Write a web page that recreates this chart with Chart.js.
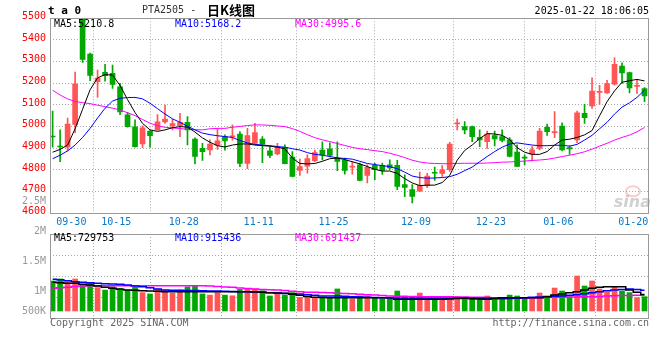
<!DOCTYPE html>
<html><head><meta charset="utf-8">
<script src="https://cdn.jsdelivr.net/npm/chart.js@4.4.1/dist/chart.umd.min.js"></script>
<style>
html,body{margin:0;padding:0;background:#fff;width:660px;height:360px;overflow:hidden}
#main{position:absolute;left:0;top:0}
#vol{position:absolute;left:0;top:195px}
</style></head><body>
<canvas id="main" width="660" height="228"></canvas>
<canvas id="vol" width="660" height="165"></canvas>
<script>
// ---- data ----
const opens = [4956,4910,4905,5010,5540,5335,5207,5251,5246,5184, 5054,4999,4920,4979,4985,5022,5003,5005,5020,4943,
  4900,4893,4915,4954,4952,4966,4830,4923,4943,4888, 4874,4905,4860,4798,4817,4843,4892,4897,4854,4844,
  4813,4824,4775,4821,4821,4824,4821,4732,4709,4702, 4728,4789,4784,4801,5013,5000,5000,4951,4931,4959,
  4954,4939,4882,4858,4873,4900,4997,4972,5003,4903, 4939,5061,5096,5158,5156,5196,5279,5250,5186,5176];
const highs = [5072,4985,5040,5252,5580,5340,5261,5288,5284,5200, 5066,5031,5004,4982,5056,5100,5035,5061,5046,4948,
  4923,4939,4992,4962,5008,4977,4992,5015,4954,4908, 4923,4916,4885,4850,4870,4892,4930,4925,4930,4855,
  4839,4832,4824,4832,4832,4847,4844,4778,4732,4790, 4784,4813,4820,4927,5035,5023,5003,4985,4980,4980,
  4985,4949,4916,4870,4908,4992,5012,5069,5018,4911, 5072,5103,5225,5191,5214,5317,5294,5252,5214,5180];
const lows = [4905,4838,4888,4972,5296,5212,5135,5210,5176,5055, 4998,4905,4903,4905,4984,5015,4985,4954,4916,4828,
  4844,4870,4895,4891,4937,4815,4806,4922,4834,4857, 4870,4828,4768,4775,4785,4838,4846,4860,4797,4781,
  4781,4750,4740,4755,4780,4800,4709,4677,4648,4700, 4718,4752,4770,4793,4985,4966,4931,4908,4900,4911,
  4930,4860,4815,4824,4842,4893,4960,4949,4888,4872, 4926,5015,5084,5103,5153,5191,5199,5156,5153,5115];
const closes = [4952,4906,5012,5198,5310,5236,5224,5235,5195,5068, 5000,4908,4995,4958,5022,5035,5014,5020,4985,4862,
  4885,4920,4934,4934,4958,4830,4959,4972,4919,4867, 4905,4829,4770,4816,4852,4880,4870,4867,4839,4798,
  4816,4752,4812,4801,4798,4809,4724,4720,4678,4729, 4772,4785,4801,4920,5017,4985,4954,4939,4966,4943,
  4936,4862,4816,4855,4893,4980,4977,4976,4893,4897, 5064,5041,5164,5162,5199,5288,5248,5179,5190,5142];
const ma5 = [4882,4895,4915,4990,5080,5170,5225,5240,5238,5190, 5125,5065,5015,4985,4978,4985,4995,5000,4998,4975,
  4948,4928,4912,4906,4915,4920,4920,4915,4912,4910, 4905,4898,4855,4830,4828,4830,4840,4852,4855,4848,
  4838,4828,4816,4803,4795,4795,4784,4760,4740,4728, 4730,4730,4742,4775,4845,4890,4915,4945,4968,4966,
  4960,4940,4903,4882,4872,4872,4885,4915,4938,4942, 4950,4962,4982,5050,5115,5165,5205,5212,5218,5211];
const ma10 = [4852,4868,4888,4915,4950,4992,5040,5085,5118,5131, 5134,5135,5128,5108,5083,5058,5036,5020,5002,4985,
  4970,4963,4958,4954,4950,4936,4925,4918,4915,4912, 4908,4905,4898,4892,4880,4872,4868,4862,4856,4853,
  4850,4840,4830,4825,4820,4815,4806,4790,4772,4765, 4762,4763,4765,4769,4780,4797,4813,4838,4862,4885,
  4905,4920,4925,4920,4915,4912,4912,4914,4914,4910, 4918,4938,4960,4990,5020,5058,5090,5110,5135,5168];
const ma30 = [5168,5146,5128,5116,5111,5106,5099,5092,5085,5077, 5064,5051,5033,5016,5004,4997,4994,4991,4988,4986,
  4985,4990,4992,4992,4997,5001,5005,5008,5008,5006, 5003,5000,4991,4978,4963,4949,4939,4931,4922,4913,
  4904,4898,4894,4889,4885,4877,4868,4857,4845,4837, 4832,4830,4829,4829,4830,4831,4831,4831,4832,4834,
  4836,4837,4839,4841,4844,4846,4849,4855,4862,4868, 4875,4884,4896,4910,4923,4938,4950,4961,4976,4996];
// volume, thousands
const volK = [1320,1410,1290,1410,1140,1250,1030,920,1070,1000, 920,1060,810,750,970,920,780,920,1060,1110,
  750,700,810,700,670,950,970,970,890,660, 750,700,810,600,600,600,600,600,970,600,
  530,660,660,560,530,590,880,660,600,790, 480,560,560,530,630,560,560,560,660,510,
  510,700,660,560,600,790,590,1010,880,630, 1540,1100,1320,970,840,1040,880,810,590,630];
const volMA5K = [1260,1240,1217,1217,1180,1140,1100,1050,997,960, 924,910,895,880,865,851,851,851,851,851,
  851,851,851,851,851,851,845,835,820,805, 790,777,740,690,640,600,590,587,587,587,
  587,587,587,587,587,587,513,513,513,513, 513,513,513,530,545,557,540,525,513,550,
  587,587,587,587,587,587,640,704,750,800, 851,920,997,1040,1070,1070,1070,924,820,730];
const volMA10K = [1400,1370,1330,1290,1265,1240,1217,1200,1185,1173, 1140,1105,1070,1020,970,925,915,910,905,900,
  895,885,875,865,858,851,842,832,820,805, 790,775,760,748,720,690,660,660,660,645,
  630,615,600,590,580,570,557,557,557,557, 557,557,557,557,557,557,557,557,557,550,
  540,550,565,580,600,615,630,645,660,690, 720,760,807,850,890,924,945,968,945,915];
const volMA30K = [1000,1020,1050,1080,1100,1110,1115,1115,1115,1115, 1115,1115,1115,1115,1115,1115,1115,1115,1115,1115,
  1115,1100,1080,1060,1040,1010,990,970,950,930, 920,900,870,850,830,820,810,800,780,770,
  760,740,720,700,680,665,650,640,635,630, 630,630,625,625,620,615,610,600,590,585,
  580,570,560,560,570,580,600,605,610,615, 620,625,630,640,655,670,680,685,690,691];
const tickIndex = [3,9,18,28,38,49,59,68,78];
const tickLabels = ['09-30','10-15','10-28','11-11','11-25','12-09','12-23','01-06','01-20'];
const maNames = ['MA5','MA10','MA30'];
const maLast = ['5210.8','5168.2','4995.6'];
const volMaLast = ['729753','915436','691437'];
const volTickLabels = ['2.5M','2M','1.5M','1M','500K'];
const titleCode = 'PTA2505 - ';
const titleName = '日K线图';
const stamp = '2025-01-22 18:06:05';

// ---- styling ----
const FONT = "'DejaVu Sans Mono','Liberation Mono',monospace";
const RED = '#ff5555', GREEN = '#00a800';
const MA_COLORS = ['#000000','#0000ff','#ff00ff'];
const candleColor = closes.map((c,i) => c >= opens[i] ? RED : GREEN);
const X_MIN = -0.35, X_MAX = 79.6;
const idx = a => a.map((v,i) => ({x:i, y:v}));

function xScale(show){
  return {
    type:'linear', min:X_MIN, max:X_MAX, bounds:'data', offset:false,
    afterBuildTicks: s => { s.ticks = tickIndex.map(v => ({value: v - 0.5})); },
    ticks:{display:show, autoSkip:false, maxRotation:0, minRotation:0, color:'#0a78c8',
      font:{family:FONT,size:10}, padding:3, callback:(v,i) => tickLabels[i]},
    grid:{color:'#aaaaaa', lineWidth:1, drawTicks:false},
    border:{display:false, dash:[1,2]},
    afterFit: s => { s.height = show ? 14.7 : 0; }
  };
}
function txt(ctx, s, x, y, color, font, align){
  ctx.save(); ctx.font = font; ctx.fillStyle = color; ctx.textAlign = align || 'left';
  ctx.textBaseline = 'middle'; ctx.fillText(s, x, y); ctx.restore();
}
function outline(chart){
  const a = chart.chartArea, ctx = chart.ctx;
  ctx.save(); ctx.strokeStyle = '#999'; ctx.lineWidth = 1;
  ctx.strokeRect(Math.round(a.left)+0.5, Math.round(a.top)+0.5, Math.round(a.right-a.left)-1, Math.round(a.bottom-a.top));
  ctx.restore();
}
const lineDs = (arr, color, stepped, w) => ({type:'line', data:idx(arr), borderColor:color, borderWidth:w,
  pointRadius:0, tension:0, stepped:stepped, order:0});

const common = {responsive:false, animation:false, devicePixelRatio:1, events:[],
  plugins:{legend:{display:false}, tooltip:{enabled:false}}};

// ---- price chart ----
new Chart(document.getElementById('main'), {
  type:'bar',
  data:{datasets:[
    {data: lows.map((l,i) => ({x:i, y:[l, highs[i]]})), backgroundColor:candleColor, barThickness:1, grouped:false, order:2},
    {data: opens.map((o,i) => ({x:i, y:[o, closes[i]]})), backgroundColor:candleColor, barThickness:5, minBarLength:1, grouped:false, order:1},
    lineDs(ma5, MA_COLORS[0], false, 1), lineDs(ma10, MA_COLORS[1], false, 1), lineDs(ma30, MA_COLORS[2], false, 1)
  ]},
  options:Object.assign({}, common, {
    layout:{padding:{top:18.3, right:11, bottom:0, left:0}},
    scales:{
      x: xScale(true),
      y:{type:'linear', min:4600, max:5500, bounds:'data',
        ticks:{stepSize:100, autoSkip:false, color:'#ff0000', font:{family:FONT,size:10}, padding:4, labelOffset:-2,
          callback: v => String(v)},
        grid:{color:'#aaaaaa', drawTicks:false}, border:{display:false, dash:[1,2]},
        afterFit: s => { s.width = 50; }}
    }
  }),
  plugins:[{id:'decorA',
    beforeDatasetsDraw(chart){
      const ctx = chart.ctx, a = chart.chartArea;
      ctx.save();
      ctx.strokeStyle = 'rgba(240,110,110,0.35)'; ctx.lineWidth = 2;
      ctx.beginPath(); ctx.ellipse(a.right-16, a.bottom-22, 7, 5, 0, 0, Math.PI*2); ctx.stroke();
      ctx.font = "italic bold 16px 'DejaVu Sans'"; ctx.fillStyle = 'rgba(150,150,150,0.45)';
      ctx.textAlign = 'right'; ctx.textBaseline = 'alphabetic';
      ctx.fillText('sina', a.right+2, a.bottom-6);
      ctx.restore();
    },
    afterDraw(chart){
      const ctx = chart.ctx, a = chart.chartArea;
      outline(chart);
      const lx = [a.left+4, 175, 295];
      maNames.forEach((n,k) => txt(ctx, n+':'+maLast[k], lx[k], a.top+6, MA_COLORS[k], '10px '+FONT));
      txt(ctx, 't a 0', 48, 11, '#000', 'bold 11px '+FONT);
      txt(ctx, titleCode, 142, 10.5, '#333', '10px '+FONT);
      txt(ctx, titleName, 207, 10.5, '#000', "bold 13px 'Noto Sans CJK SC'");
      txt(ctx, stamp, a.right, 11.5, '#000', '10px '+FONT, 'right');
    }
  }]
});

// ---- volume chart ----
const VMIN = -308, VMAX = 3388;
new Chart(document.getElementById('vol'), {
  type:'bar',
  data:{datasets:[
    {data: idx(volK), backgroundColor:candleColor, barThickness:5, grouped:false, order:1},
    lineDs(volMA5K, MA_COLORS[0], 'middle', 1.5), lineDs(volMA10K, MA_COLORS[1], 'middle', 1.5), lineDs(volMA30K, MA_COLORS[2], 'middle', 1.5)
  ]},
  options:Object.assign({}, common, {
    layout:{padding:{top:39, right:11, bottom:42, left:0}},
    scales:{
      x: xScale(false),
      y:{type:'linear', min:VMIN, max:VMAX, bounds:'data',
        afterBuildTicks: s => { s.ticks = [1,2,3].map(k => ({value: VMIN + k*(VMAX-VMIN)/4})); },
        ticks:{display:false}, grid:{color:'#aaaaaa', drawTicks:false}, border:{display:false, dash:[1,2]},
        afterFit: s => { s.width = 50; }}
    }
  }),
  plugins:[{id:'decorB',
    afterDraw(chart){
      const ctx = chart.ctx, a = chart.chartArea;
      outline(chart);
      const lx = [a.left+4, 175, 295];
      maNames.forEach((n,k) => txt(ctx, n+':'+volMaLast[k], lx[k], a.top+4.5, MA_COLORS[k], '10px '+FONT));
      volTickLabels.forEach((s,k) => {
        const y = Math.min(a.top - 33 + 30*k, a.bottom - 7);
        txt(ctx, s, a.left-4, y, '#999', '10px '+FONT, 'right');
      });
      txt(ctx, 'Copyright 2025 SINA.COM', a.left, a.bottom+5.5, '#666', '10px '+FONT);
      txt(ctx, 'http://finance.sina.com.cn', a.right, a.bottom+5.5, '#666', '10px '+FONT, 'right');
    }
  }]
});
</script>
</body></html>
